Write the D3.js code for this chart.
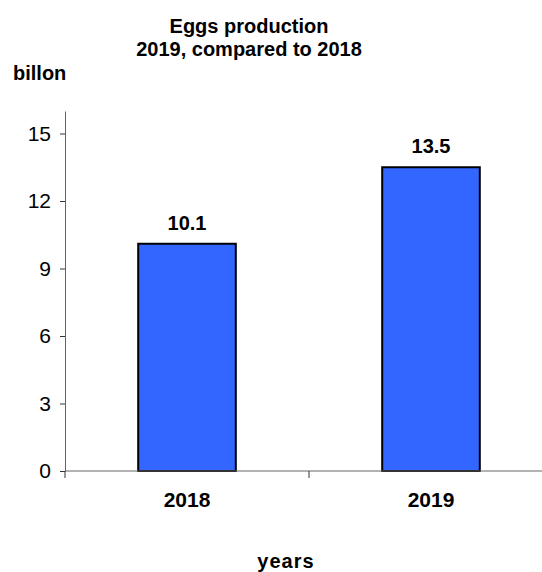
<!DOCTYPE html>
<html>
<head>
<meta charset="utf-8">
<script src="https://cdn.jsdelivr.net/npm/d3@7"></script>
<style>
  html, body { margin: 0; padding: 0; background: #fff; }
  svg { display: block; font-family: "Liberation Sans", Arial, sans-serif; }
</style>
</head>
<body>
<svg id="chart" width="542" height="572"></svg>
<script>
const categories = ["2018", "2019"];
const values = [10.1, 13.5];
const valueLabels = ["10.1", "13.5"];
const yTicks = [0, 3, 6, 9, 12, 15];
const titleLines = ["Eggs production", "2019, compared to 2018"];
const yAxisTitle = "billon";
const xAxisTitle = "years";

const svg = d3.select("#chart");
const margin = { left: 65, right: -11, top: 111, bottom: 101 };
const W = 542, H = 572;

const x = d3.scaleBand().domain(categories)
  .range([margin.left, W - margin.right]).paddingInner(0.6).paddingOuter(0.3);
const y = d3.scaleLinear().domain([0, 16]).range([H - margin.bottom, margin.top]);

// bars
svg.append("g").selectAll("rect").data(values).join("rect")
  .attr("x", (d, i) => x(categories[i]))
  .attr("y", d => y(d))
  .attr("width", x.bandwidth())
  .attr("height", d => y(0) - y(d))
  .attr("fill", "#3366FF")
  .attr("stroke", "#000")
  .attr("stroke-width", 2);

// value labels
svg.append("g").selectAll("text").data(values).join("text")
  .attr("x", (d, i) => x(categories[i]) + x.bandwidth() / 2)
  .attr("y", d => y(d) - 14)
  .attr("text-anchor", "middle")
  .attr("font-size", 20).attr("font-weight", "bold")
  .text((d, i) => valueLabels[i]);

// y axis
const yAxis = svg.append("g").attr("transform", `translate(${margin.left},0)`)
  .call(d3.axisLeft(y).tickValues(yTicks).tickSize(5).tickPadding(9).tickSizeOuter(0));
yAxis.select(".domain").attr("stroke", "#666");
yAxis.selectAll(".tick line").attr("stroke", "#333");
yAxis.selectAll(".tick text").attr("font-size", 21).attr("fill", "#000")
  .attr("font-family", "Liberation Sans, Arial, sans-serif");

// x axis
const xAxisG = svg.append("g").attr("transform", `translate(0,${y(0)})`);
xAxisG.append("line").attr("x1", margin.left).attr("x2", W)
  .attr("stroke", "#666").attr("stroke-width", 1);
const bounds = [margin.left, margin.left + (W - margin.right - margin.left) / 2];
xAxisG.selectAll("line.tk").data(bounds).join("line").attr("class", "tk")
  .attr("x1", d => d).attr("x2", d => d).attr("y1", 0).attr("y2", 7)
  .attr("stroke", "#333");
xAxisG.selectAll("text").data(categories).join("text")
  .attr("x", d => x(d) + x.bandwidth() / 2)
  .attr("y", 36)
  .attr("text-anchor", "middle")
  .attr("font-size", 21).attr("font-weight", "bold")
  .text(d => d);

// titles
svg.append("g").selectAll("text").data(titleLines).join("text")
  .attr("x", 249).attr("y", (d, i) => 33 + i * 23)
  .attr("text-anchor", "middle")
  .attr("font-size", 20).attr("font-weight", "bold")
  .text(d => d);

svg.append("text").attr("x", 13).attr("y", 80)
  .attr("font-size", 20).attr("font-weight", "bold").text(yAxisTitle);

svg.append("text").attr("x", 286).attr("y", 568)
  .attr("text-anchor", "middle")
  .attr("font-size", 20).attr("font-weight", "bold")
  .attr("letter-spacing", 1).text(xAxisTitle);
</script>
</body>
</html>
